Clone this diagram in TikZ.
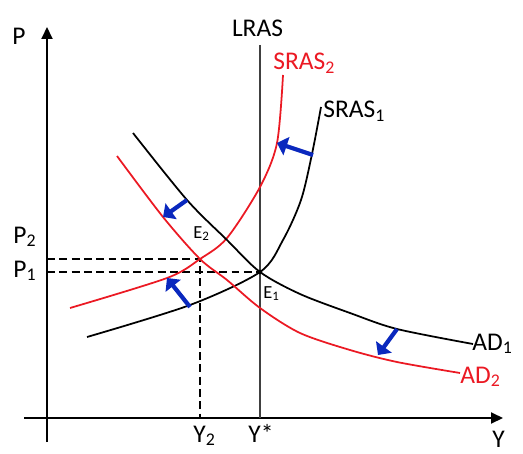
\documentclass[tikz,border=0pt]{standalone}
\usepackage{fontspec}
\setmainfont{Carlito}
\usetikzlibrary{arrows.meta}
\definecolor{shiftblue}{RGB}{10,40,190}
\definecolor{curvered}{RGB}{235,25,35}

\begin{document}
\begin{tikzpicture}[
    axis/.style={line width=1.1pt, -{Triangle[length=2.4mm,width=2.2mm]}},
    curve/.style={line width=1pt},
    guide/.style={line width=0.9pt, dash pattern=on 4.5pt off 2.5pt},
    shiftarrow/.style={line width=2.4pt, shiftblue, -{Triangle[length=2mm,width=3.8mm]}},
    lbl/.style={font=\fontsize{14.5}{16}\selectfont, inner sep=0pt},
    eqlbl/.style={font=\fontsize{10.5}{12}\selectfont, inner sep=0pt}]
    \useasboundingbox (-0.94,-0.70) rectangle (9.52,8.36);
    \coordinate (O) at (0,0);
    \coordinate (E1) at (4.26,2.92); \coordinate (E2) at (3.06,3.18);
    \coordinate (ybot) at (0,-0.48); \coordinate (ytop) at (0,7.82);
    \coordinate (xleft) at (-0.46,0); \coordinate (xright) at (9.12,0);
    \coordinate (lrastop) at (4.26,7.46);

    % osys
    \draw[axis] (ybot) -- (ytop);
    \draw[axis] (xleft) -- (xright);
    \draw[line width=1pt, black!75] (lrastop) -- (E1 |- O);

    % pagalbines linijos
    \draw[guide] (E2 -| O) -- (E2) -- (E2 |- O);
    \draw[guide] (E1 -| O) -- (E1);

    % kreives
    \draw[curve] plot[smooth] coordinates {(0.80,1.62) (2.86,2.26) (E1) (4.72,3.56) (5.08,4.36) (5.30,5.28) (5.48,6.22)}; % SRAS1
    \draw[curve, curvered] plot[smooth] coordinates {(0.46,2.20) (2.40,2.80) (E2) (3.60,3.60) (4.26,4.62) (4.60,5.50) (4.72,6.86)}; % SRAS2
    \draw[curve] plot[smooth] coordinates {(1.72,5.70) (2.80,4.36) (3.60,3.56) (E1) (5.06,2.48) (6.06,2.10) (7.00,1.78) (8.52,1.48)}; % AD1
    \draw[curve, curvered] plot[smooth] coordinates {(1.40,5.24) (2.32,4.02) (E2) (3.60,2.76) (4.26,2.20) (5.06,1.70) (6.06,1.36) (7.00,1.12) (8.26,0.90)}; % AD2

    % poslinkiai
    \coordinate (ta) at (5.32,5.26); \coordinate (ha) at (4.60,5.50);
    \coordinate (tb) at (2.80,4.36); \coordinate (hb) at (2.32,4.02);
    \coordinate (tc) at (2.86,2.22); \coordinate (hc) at (2.40,2.80);
    \coordinate (td) at (7.00,1.78); \coordinate (hd) at (6.62,1.26);
    \foreach \t/\h in {ta/ha,tb/hb,tc/hc,td/hd} {\draw[shiftarrow] (\t) -- (\h);}

    \fill (E1) circle (1.3pt);

    \node[lbl, anchor=base west] (P) at (-0.70,7.46) {P};
    \node[lbl, anchor=base west] (Y) at (8.90,-0.58) {Y};
    \node[lbl, anchor=base] (lras) at (4.21,7.62) {LRAS};
    \node[lbl, anchor=base west, curvered] (sras2) at (4.52,6.96) {SRAS\textsubscript{2}};
    \node[lbl, anchor=base west] (sras1) at (5.52,6.00) {SRAS\textsubscript{1}};
    \node[lbl, anchor=base west] (ad1) at (8.50,1.36) {AD\textsubscript{1}};
    \node[lbl, anchor=base west, curvered] (ad2) at (8.26,0.70) {AD\textsubscript{2}};
    \node[lbl, anchor=base west] (p2) at (-0.68,3.50) {P\textsubscript{2}};
    \node[lbl, anchor=base west] (p1) at (-0.68,2.82) {P\textsubscript{1}};
    \node[lbl, anchor=base west] (y2) at (2.92,-0.48) {Y\textsubscript{2}};
    \node[lbl, anchor=base west] (ystar) at (4.02,-0.48) {Y*};
    \node[eqlbl, anchor=base west] (e2) at (2.92,3.60) {E\textsubscript{2}};
    \node[eqlbl, anchor=base west] (e1) at (4.32,2.40) {E\textsubscript{1}};
\end{tikzpicture}
\end{document}
